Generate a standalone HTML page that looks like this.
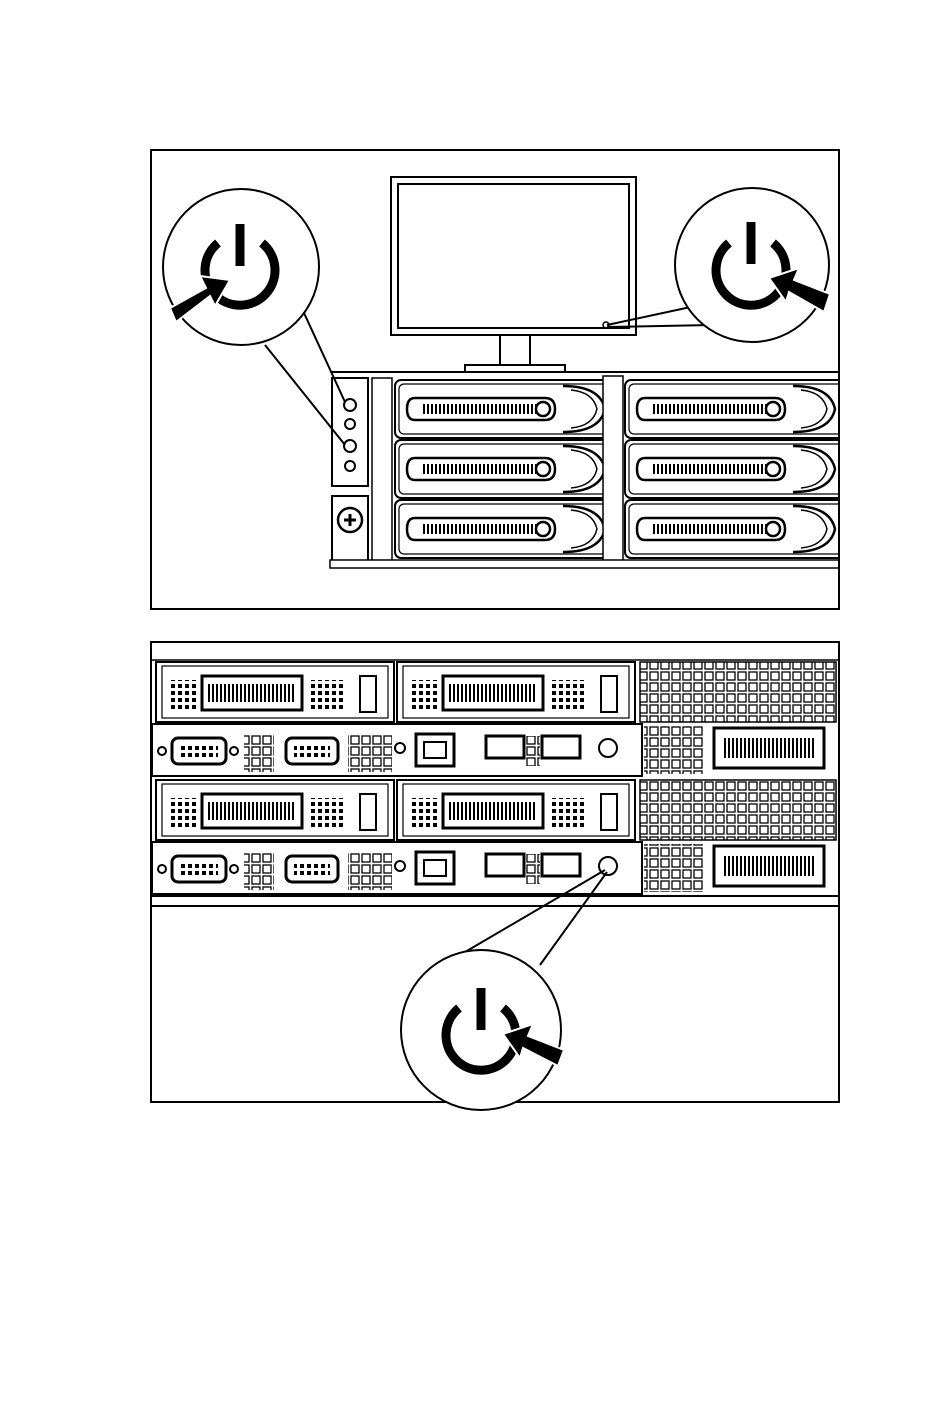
<!DOCTYPE html>
<html><head><meta charset="utf-8"><style>html,body{margin:0;padding:0;background:#fff}svg{display:block}</style></head>
<body>
<svg width="950" height="1425" viewBox="0 0 950 1425" xmlns="http://www.w3.org/2000/svg">
<defs>
<clipPath id="c1"><rect x="152" y="151" width="686" height="457"/></clipPath>
<pattern id="hatch" width="4" height="10" patternUnits="userSpaceOnUse"><rect width="4" height="10" fill="#fff"/><rect width="2" height="10" fill="#000"/></pattern>
<pattern id="grid" width="11" height="11" patternUnits="userSpaceOnUse"><rect width="11" height="11" fill="#fff"/><rect x="1" y="1" width="8" height="8" fill="none" stroke="#000" stroke-width="1.3"/></pattern>
<pattern id="dots" width="7" height="7" patternUnits="userSpaceOnUse"><rect width="7" height="7" fill="#fff"/><rect x="1" y="1" width="4" height="4" fill="#000"/></pattern>
<g id="drive">
 <rect x="0" y="0" width="222" height="58" rx="6" fill="#fff" stroke="#000" stroke-width="2"/>
 <rect x="4" y="4" width="214" height="50" rx="5" fill="none" stroke="#000" stroke-width="1.2"/>
 <path d="M20 18 H150 Q160 18 160 29 Q160 40 150 40 H20 Q12 40 12 29 Q12 18 20 18 Z" fill="#fff" stroke="#000" stroke-width="2.5"/>
 <rect x="28" y="24" width="120" height="10" fill="url(#hatch)"/>
 <circle cx="148" cy="29" r="7" fill="#fff" stroke="#000" stroke-width="2.5"/>
 <path d="M168 6 Q205 6 210 29 Q205 52 168 52" fill="none" stroke="#000" stroke-width="2.5"/>
 <path d="M176 10 Q198 12 202 29 Q198 46 176 48" fill="none" stroke="#000" stroke-width="1.5"/>
</g>
<g id="module">
 <rect x="0" y="0" width="238" height="60" fill="#fff" stroke="#000" stroke-width="2"/>
 <rect x="6" y="4" width="226" height="52" fill="none" stroke="#000" stroke-width="1.2"/>
 <rect x="12" y="18" width="28" height="30" fill="url(#dots)"/>
 <rect x="46" y="14" width="100" height="34" fill="#fff" stroke="#000" stroke-width="3"/>
 <rect x="52" y="22" width="88" height="18" fill="url(#hatch)"/>
 <rect x="154" y="18" width="36" height="30" fill="url(#dots)"/>
 <rect x="204" y="14" width="16" height="36" fill="none" stroke="#000" stroke-width="2"/>
</g>
<g id="io">
 <rect x="0" y="0" width="490" height="52" fill="#fff" stroke="#000" stroke-width="2"/>
 <rect x="20" y="14" width="54" height="26" rx="6" fill="#fff" stroke="#000" stroke-width="3"/>
 <rect x="28" y="20" width="38" height="14" fill="url(#dots)"/>
 <circle cx="10" cy="27" r="4" fill="none" stroke="#000" stroke-width="2"/>
 <circle cx="82" cy="27" r="4" fill="none" stroke="#000" stroke-width="2"/>
 <rect x="92" y="10" width="30" height="38" fill="url(#grid)"/>
 <rect x="134" y="14" width="52" height="26" rx="6" fill="#fff" stroke="#000" stroke-width="3"/>
 <rect x="142" y="20" width="36" height="14" fill="url(#dots)"/>
 <rect x="196" y="10" width="44" height="38" fill="url(#grid)"/>
 <circle cx="248" cy="24" r="5" fill="none" stroke="#000" stroke-width="2"/>
 <rect x="264" y="10" width="38" height="32" fill="#fff" stroke="#000" stroke-width="3"/>
 <rect x="272" y="18" width="22" height="16" fill="none" stroke="#000" stroke-width="2"/>
 <rect x="334" y="12" width="38" height="22" fill="#fff" stroke="#000" stroke-width="3"/>
 <rect x="390" y="12" width="38" height="22" fill="#fff" stroke="#000" stroke-width="3"/>
 <rect x="374" y="12" width="14" height="30" fill="url(#grid)"/>
 <circle cx="456" cy="24" r="9" fill="#fff" stroke="#000" stroke-width="2"/>
</g>
</defs>

<!-- Box 1 -->
<rect x="151" y="150" width="688" height="459" fill="#fff" stroke="#000" stroke-width="2"/>
<rect x="391" y="177" width="245" height="158" fill="#fff" stroke="#000" stroke-width="2"/>
<rect x="398" y="184" width="231" height="144" fill="none" stroke="#000" stroke-width="2"/>
<circle cx="606" cy="325" r="3" fill="none" stroke="#000" stroke-width="1.5"/>
<rect x="500" y="335" width="30" height="30" fill="#fff" stroke="#000" stroke-width="2"/>
<rect x="465" y="365" width="100" height="10" fill="#fff" stroke="#000" stroke-width="2"/>
<g clip-path="url(#c1)">
<rect x="330" y="372" width="509" height="200" fill="#fff"/>
<line x1="330" y1="372" x2="839" y2="372" stroke="#000" stroke-width="2"/>
<rect x="332" y="378" width="36" height="108" fill="#fff" stroke="#000" stroke-width="2"/>
<circle cx="350" cy="405" r="6" fill="#fff" stroke="#000" stroke-width="2"/>
<circle cx="350" cy="424" r="5" fill="#fff" stroke="#000" stroke-width="2"/>
<circle cx="350" cy="446" r="6" fill="#fff" stroke="#000" stroke-width="2"/>
<circle cx="350" cy="466" r="5" fill="#fff" stroke="#000" stroke-width="2"/>
<rect x="332" y="496" width="36" height="66" fill="#fff" stroke="#000" stroke-width="2"/>
<circle cx="350" cy="520" r="12" fill="#fff" stroke="#000" stroke-width="2.5"/>
<path d="M344 520 H356 M350 514 V526" stroke="#000" stroke-width="3"/>
<rect x="372" y="378" width="20" height="186" fill="#fff" stroke="#000" stroke-width="1.5"/>
<use href="#drive" x="395" y="380"/>
<use href="#drive" x="395" y="440"/>
<use href="#drive" x="395" y="500"/>
<rect x="603" y="376" width="20" height="186" fill="#fff" stroke="#000" stroke-width="1.5"/>
<use href="#drive" x="625" y="380"/>
<use href="#drive" x="625" y="440"/>
<use href="#drive" x="625" y="500"/>
<rect x="330" y="560" width="515" height="8" fill="#fff" stroke="#000" stroke-width="1.5"/>
</g>
<line x1="275" y1="250" x2="345" y2="402" stroke="#000" stroke-width="2"/>
<line x1="265" y1="345" x2="345" y2="445" stroke="#000" stroke-width="2"/>
<line x1="700" y1="305" x2="607" y2="325" stroke="#000" stroke-width="2"/>
<line x1="712" y1="325" x2="607" y2="327" stroke="#000" stroke-width="2"/>
<circle cx="241" cy="267" r="78" fill="#fff" stroke="#000" stroke-width="2"/>
<circle cx="752" cy="265" r="77" fill="#fff" stroke="#000" stroke-width="2"/>
<g fill="none" stroke="#000" stroke-width="9">
<path d="M218 243 A35 35 0 1 0 262 243"/>
<line x1="240" y1="224" x2="240" y2="266"/>
<path d="M729 243 A35 35 0 1 0 773 243"/>
<line x1="751" y1="222" x2="751" y2="264"/>
</g>
<path d="M170 308 L206 288 L200 276 L230 280 L215 306 L210 296 L176 322 Z" fill="#000" stroke="#fff" stroke-width="2"/>
<path d="M830 294 L794 280 L799 268 L769 278 L786 302 L789 292 L824 312 Z" fill="#000" stroke="#fff" stroke-width="2"/>

<!-- Box 2 -->
<rect x="151" y="642" width="688" height="460" fill="#fff" stroke="#000" stroke-width="2"/>
<line x1="152" y1="660" x2="838" y2="660" stroke="#000" stroke-width="1.5"/>
<use href="#module" x="156" y="662"/>
<use href="#module" x="397" y="662"/>
<rect x="640" y="662" width="196" height="60" fill="url(#grid)" stroke="#000" stroke-width="1.5"/>
<use href="#io" x="152" y="724"/>
<rect x="644" y="726" width="60" height="48" fill="url(#grid)"/>
<rect x="714" y="728" width="110" height="40" fill="#fff" stroke="#000" stroke-width="3"/>
<rect x="722" y="738" width="94" height="20" fill="url(#hatch)"/>
<use href="#module" x="156" y="780"/>
<use href="#module" x="397" y="780"/>
<rect x="640" y="780" width="196" height="60" fill="url(#grid)" stroke="#000" stroke-width="1.5"/>
<use href="#io" x="152" y="842"/>
<rect x="644" y="844" width="60" height="48" fill="url(#grid)"/>
<rect x="714" y="846" width="110" height="40" fill="#fff" stroke="#000" stroke-width="3"/>
<rect x="722" y="856" width="94" height="20" fill="url(#hatch)"/>
<line x1="152" y1="896" x2="838" y2="896" stroke="#000" stroke-width="2"/>
<line x1="152" y1="906" x2="838" y2="906" stroke="#000" stroke-width="2"/>
<rect x="152" y="908" width="686" height="193" fill="#fff"/>
<line x1="460" y1="955" x2="605" y2="870" stroke="#000" stroke-width="2"/>
<line x1="540" y1="965" x2="607" y2="872" stroke="#000" stroke-width="2"/>
<circle cx="481" cy="1030" r="80" fill="#fff" stroke="#000" stroke-width="2"/>
<g fill="none" stroke="#000" stroke-width="9">
<path d="M459 1008 A35 35 0 1 0 503 1008"/>
<line x1="481" y1="988" x2="481" y2="1030"/>
</g>
<path d="M564 1050 L528 1036 L533 1024 L503 1034 L520 1058 L523 1048 L558 1066 Z" fill="#000" stroke="#fff" stroke-width="2"/>
</svg>
</body></html>
